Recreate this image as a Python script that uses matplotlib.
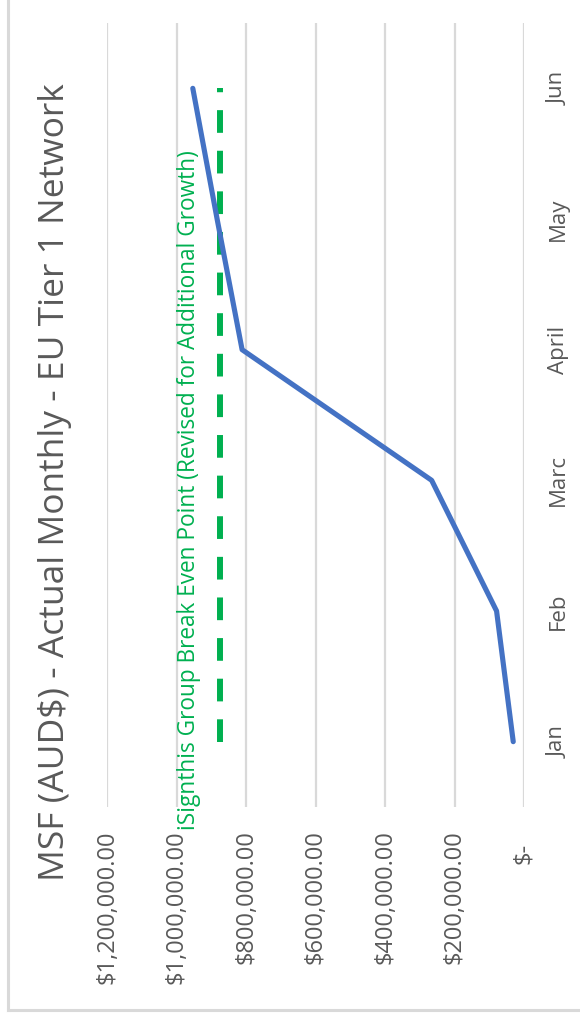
import numpy as np
import matplotlib
matplotlib.use("Agg")
import matplotlib.pyplot as plt
import matplotlib.transforms as mtransforms
from matplotlib.lines import Line2D

# Chart values (AUD$).
months = ["Jan", "Feb", "Marc", "April", "May", "Jun"]
msf_actual = [31000, 79000, 266000, 812000, 884000, 954000]
break_even = [877000] * 6
value_ticks = [0, 200000, 400000, 600000, 800000, 1000000, 1200000]

title = "MSF (AUD$) - Actual Monthly - EU Tier 1 Network"
break_even_label = "iSignthis Group Break Even Point (Revised for Additional Growth)"

GREY = "#595959"
GRID = "#D9D9D9"
BLUE = "#4472C4"
GREEN = "#00B050"

plt.rcParams['font.family'] = ['Open Sans', 'DejaVu Sans']

W, H = 580, 1019
fig = plt.figure(figsize=(W / 100, H / 100), dpi=100)

# The whole Excel chart is turned 90 degrees: value axis runs right-to-left,
# months run bottom-to-top.
ax = fig.add_axes([107.4 / W, 1 - 807 / H, (524 - 107.4) / W, (807 - 23) / H])
ypos = np.arange(len(months))

ax.plot(break_even, ypos, color=GREEN, lw=4.3, dashes=(3.8, 3.0),
        solid_capstyle='butt', zorder=3)
ax.plot(msf_actual, ypos, color=BLUE, lw=3.7, solid_capstyle='round',
        solid_joinstyle='round', zorder=4)

ax.set_xlim(value_ticks[-1], value_ticks[0])
ax.set_ylim(-0.5, len(months) - 0.5)
ax.set_xticks(value_ticks)
ax.set_xticklabels(["$-" if v == 0 else "${:,.2f}".format(v) for v in value_ticks],
                   rotation=90, color=GREY, fontsize=17)
ax.tick_params(axis='x', length=0, pad=17)
ax.xaxis.grid(True, color=GRID, lw=1.6)
ax.set_axisbelow(True)

ax.yaxis.tick_right()
ax.set_yticks(ypos)
ax.set_yticklabels(months, rotation=90, color=GREY, fontsize=16, va='center')
ax.tick_params(axis='y', length=0, pad=17)

for s in ax.spines.values():
    s.set_visible(False)

# "$-" sits a bit lower than the other value labels (accounting format padding)
zero_lab = ax.get_xticklabels()[0]
zero_lab.set_transform(zero_lab.get_transform() +
                       mtransforms.ScaledTranslation(0, -12 / 100, fig.dpi_scale_trans))

fig.text(55 / W, 1 - 482 / H, title, rotation=90, ha='center', va='center',
         color=GREY, fontsize=25.5)
fig.text(189 / W, 1 - 830 / H, break_even_label, rotation=90, ha='center', va='bottom',
         color=GREEN, fontsize=16.3)

# chart border (only left and bottom edges are in the picture)
fig.add_artist(Line2D([8 / W, 8 / W], [1 - 1010 / H, 1.01], transform=fig.transFigure,
                      color=GRID, lw=2.2))
fig.add_artist(Line2D([8 / W, 1.01], [1 - 1010 / H, 1 - 1010 / H], transform=fig.transFigure,
                      color=GRID, lw=2.2))

fig.savefig("out.png", dpi=100, facecolor="white")
